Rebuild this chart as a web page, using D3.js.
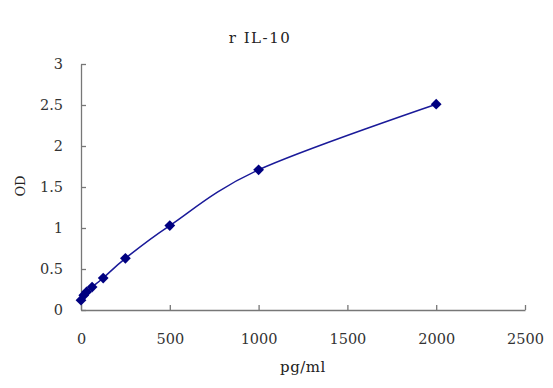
<!DOCTYPE html>
<html>
<head>
<meta charset="utf-8">
<script src="https://cdn.jsdelivr.net/npm/d3@7"></script>
<style>
  body { margin: 0; background: #fff; }
  svg { display: block; }
</style>
</head>
<body>
<svg id="chart" width="553" height="388"></svg>
<script>
// standard curve data
var concentrations = [0, 15.6, 31.25, 62.5, 125, 250, 500, 1000, 2000];
var odValues = [0.12, 0.18, 0.22, 0.28, 0.39, 0.63, 1.03, 1.71, 2.51];
var xTicks = [0, 500, 1000, 1500, 2000, 2500];
var yTicks = [0, 0.5, 1, 1.5, 2, 2.5, 3];
var chartTitle = "r IL-10";
var xLabel = "pg/ml";
var yLabel = "OD";

var svg = d3.select("#chart");
var plotLeft = 81, plotRight = 525, plotTop = 64, plotBottom = 310;
var serif = "'DejaVu Serif', serif";

var xScale = d3.scaleLinear().domain([0, 2500]).range([plotLeft, plotRight]);
var yScale = d3.scaleLinear().domain([0, 3]).range([plotBottom, plotTop]);

var points = concentrations.map(function(c, i){ return {x: c, y: odValues[i]}; });

// axes
svg.append("g")
    .attr("transform", "translate(0," + plotBottom + ")")
    .call(d3.axisBottom(xScale).tickValues(xTicks).tickSize(-5).tickSizeOuter(0).tickPadding(24)
        .tickFormat(d3.format("d")));
svg.append("g")
    .attr("transform", "translate(" + plotLeft + ",0)")
    .call(d3.axisLeft(yScale).tickValues(yTicks).tickSize(-5).tickSizeOuter(0).tickPadding(18)
        .tickFormat(function(d){ return String(d); }));

svg.selectAll(".domain, .tick line").attr("stroke", "#777").attr("stroke-width", 1.3);
svg.selectAll(".tick text")
    .style("font-family", serif).style("font-size", "14.5px").style("fill", "#333");

// smoothed curve
var line = d3.line()
    .x(function(d){ return xScale(d.x); })
    .y(function(d){ return yScale(d.y); })
    .curve(d3.curveCardinal);

svg.append("path")
    .datum(points)
    .attr("d", line)
    .attr("fill", "none")
    .attr("stroke", "#1a1a99")
    .attr("stroke-width", 1.5);

// diamond markers
svg.selectAll("path.marker")
    .data(points)
    .enter().append("path")
    .attr("class", "marker")
    .attr("d", d3.symbol().type(d3.symbolSquare).size(58))
    .attr("transform", function(d){ return "translate(" + xScale(d.x) + "," + yScale(d.y) + ") rotate(45)"; })
    .attr("fill", "#000080");

// labels
svg.append("text")
    .attr("x", 260).attr("y", 43)
    .attr("text-anchor", "middle")
    .style("font-family", serif).style("font-size", "15px").style("letter-spacing", "1.5px").style("fill", "#222")
    .text(chartTitle);

svg.append("text")
    .attr("x", 303).attr("y", 372)
    .attr("text-anchor", "middle")
    .style("font-family", serif).style("font-size", "15px").style("letter-spacing", "0.5px").style("fill", "#222")
    .text(xLabel);

svg.append("text")
    .attr("transform", "translate(25,186) rotate(-90)")
    .attr("text-anchor", "middle")
    .style("font-family", serif).style("font-size", "13px").style("fill", "#222")
    .text(yLabel);
</script>
</body>
</html>
